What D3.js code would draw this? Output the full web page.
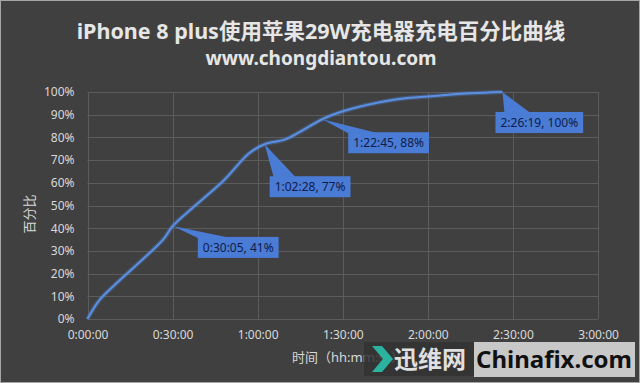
<!DOCTYPE html>
<html>
<head>
<meta charset="utf-8">
<style>
  body { margin: 0; background: #404040; }
  text { font-family: "Noto Sans", "Noto Sans CJK SC", sans-serif; }
  .grid line { stroke: #5c5c5c; stroke-width: 1; }
  .tick text { fill: #d9d9d9; font-size: 12px; }
</style>
</head>
<body>
<script src="https://d3js.org/d3.v7.min.js"></script>
<div id="chart"></div>
<script>
// elapsed time (h:mm:ss) and battery percentage
var times = ["0:00:00", "0:04:00", "0:10:00", "0:26:40", "0:30:05", "0:38:00", "0:48:00",
             "0:57:00", "1:02:28", "1:09:30", "1:15:00", "1:22:45", "1:30:00", "1:47:30",
             "2:00:00", "2:15:00", "2:26:19"];
var percents = [0, 8, 15.5, 35, 41, 50, 61, 73, 77, 79, 82.5, 88, 91.5, 96.5, 98, 99.4, 100];

var xTicks = ["0:00:00", "0:30:00", "1:00:00", "1:30:00", "2:00:00", "2:30:00", "3:00:00"];
var yTicks = [0, 10, 20, 30, 40, 50, 60, 70, 80, 90, 100];

// labelled points
var noteTimes = ["0:30:05", "1:02:28", "1:22:45", "2:26:19"];
var notePercents = [41, 77, 88, 100];
// callout placement relative to the point (layout only)
var noteOffsets = [[25, 11, 0, 33], [5, 32, 4, 26], [26, 13, 0, 30], [-7, 20, 9, 35]];

var width = 640, height = 383;
var margin = {top: 92, right: 42, bottom: 64, left: 87.5};

function toMinutes(s) {
  var p = s.split(":").map(Number);
  return p[0] * 60 + p[1] + p[2] / 60;
}

var data = times.map(function(t, i) { return {t: toMinutes(t), v: percents[i]}; });

var svg = d3.select("#chart").append("svg")
    .attr("width", width)
    .attr("height", height);

svg.append("rect")
    .attr("x", 0.5).attr("y", 0.5)
    .attr("width", width - 1).attr("height", height - 1)
    .attr("fill", "#404040")
    .attr("stroke", "#a6a6a6");

var xScale = d3.scaleLinear()
    .domain([0, toMinutes(xTicks[xTicks.length - 1])])
    .range([margin.left, width - margin.right]);

var yScale = d3.scaleLinear()
    .domain([0, 100])
    .range([height - margin.bottom, margin.top]);

// gridlines
var grid = svg.append("g").attr("class", "grid");
grid.selectAll(".h").data(yTicks).enter().append("line")
    .attr("x1", xScale.range()[0]).attr("x2", xScale.range()[1])
    .attr("y1", function(d) { return Math.round(yScale(d)) + 0.5; })
    .attr("y2", function(d) { return Math.round(yScale(d)) + 0.5; });
grid.selectAll(".v").data(xTicks).enter().append("line")
    .attr("y1", yScale.range()[0]).attr("y2", yScale.range()[1])
    .attr("x1", function(d) { return Math.round(xScale(toMinutes(d))) + 0.5; })
    .attr("x2", function(d) { return Math.round(xScale(toMinutes(d))) + 0.5; });

// axes (labels only)
svg.append("g")
    .attr("transform", "translate(0," + (height - margin.bottom) + ")")
    .call(d3.axisBottom(xScale)
        .tickValues(xTicks.map(toMinutes))
        .tickFormat(function(d, i) { return xTicks[i]; })
        .tickSize(0).tickPadding(11));
svg.append("g")
    .attr("transform", "translate(" + margin.left + ",0)")
    .call(d3.axisLeft(yScale)
        .tickValues(yTicks)
        .tickFormat(function(d) { return d + "%"; })
        .tickSize(0).tickPadding(13));
svg.selectAll(".domain").remove();
svg.selectAll(".tick text").attr("font-family", null);

// line
var line = d3.line()
    .x(function(d) { return xScale(d.t); })
    .y(function(d) { return yScale(d.v); })
    .curve(d3.curveCatmullRom.alpha(0.5));

svg.append("path")
    .datum(data)
    .attr("fill", "none")
    .attr("stroke", "#4f86dc")
    .attr("stroke-opacity", 0.35)
    .attr("stroke-width", 4.5)
    .attr("d", line);
svg.append("path")
    .datum(data)
    .attr("fill", "none")
    .attr("stroke", "#5b8fe2")
    .attr("stroke-width", 2)
    .attr("d", line);

// callouts
noteTimes.forEach(function(t, i) {
  var px = xScale(toMinutes(t)), py = yScale(notePercents[i]);
  var o = noteOffsets[i];
  var g = svg.append("g");
  var label = g.append("text")
      .attr("font-size", 12)
      .attr("fill", "#0e1d4a")
      .text(t + ", " + notePercents[i] + "%");
  var bb = label.node().getBBox();
  var bx = px + o[0], by = py + o[1], bw = bb.width + 10, bh = 21;
  g.insert("path", "text")
      .attr("d", "M" + px + "," + py + "L" + (bx + o[2]) + "," + (by + 1) +
                 "L" + (bx + o[3]) + "," + (by + 1) + "Z")
      .attr("fill", "#4a7bd5");
  g.insert("rect", "text")
      .attr("x", bx).attr("y", by)
      .attr("width", bw).attr("height", bh)
      .attr("fill", "#4a7bd5");
  label.attr("x", bx + bw / 2).attr("y", by + bh / 2 + 4.5)
      .attr("text-anchor", "middle");
});

// titles
svg.append("text")
    .attr("x", 321).attr("y", 39)
    .attr("text-anchor", "middle")
    .attr("font-size", 21.5).attr("font-weight", "bold")
    .attr("fill", "#e6e6e6")
    .text("iPhone 8 plus使用苹果29W充电器充电百分比曲线");
svg.append("text")
    .attr("x", 321).attr("y", 65)
    .attr("text-anchor", "middle")
    .attr("font-size", 19).attr("font-weight", "bold")
    .attr("fill", "#e6e6e6")
    .text("www.chongdiantou.com");

svg.append("text")
    .attr("transform", "translate(34,214) rotate(-90)")
    .attr("text-anchor", "middle")
    .attr("font-size", 13)
    .attr("fill", "#d9d9d9")
    .text("百分比");

svg.append("text")
    .attr("x", 292).attr("y", 362)
    .attr("font-size", 13)
    .attr("fill", "#d9d9d9")
    .text("时间（hh:mm:ss）");

// watermark
var wm = svg.append("g");
wm.append("rect").attr("x", 364).attr("y", 342).attr("width", 110).attr("height", 34)
    .attr("fill", "#333333").attr("fill-opacity", 0.85);
wm.append("path").attr("d", "M372,346 L382,346 L393,359 L382,372 L372,372 L383,359 Z")
    .attr("fill", "#2bb3a0");
wm.append("text").attr("x", 394).attr("y", 368)
    .attr("font-family", "Noto Sans CJK SC")
    .attr("font-size", 24).attr("font-weight", "bold")
    .attr("fill", "#e0e0e0")
    .text("迅维网");
wm.append("rect").attr("x", 474).attr("y", 342).attr("width", 161).attr("height", 35)
    .attr("fill", "#c8c8c8");
wm.append("text").attr("x", 554).attr("y", 368)
    .attr("text-anchor", "middle")
    .attr("font-family", "Open Sans")
    .attr("font-size", 24).attr("font-weight", "bold")
    .attr("fill", "#111111")
    .text("Chinafix.com");
</script>
</body>
</html>
